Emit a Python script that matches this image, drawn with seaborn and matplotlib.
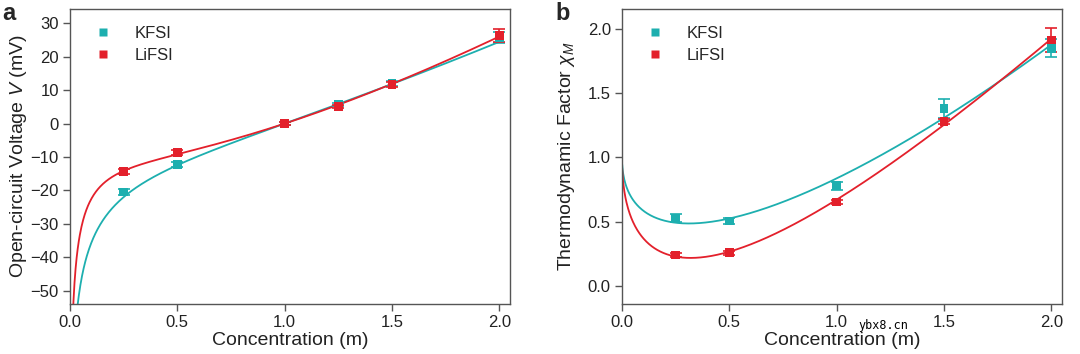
import numpy as np
import pandas as pd
import seaborn as sns
import matplotlib
matplotlib.use("Agg")
import matplotlib.pyplot as plt

# datos
conc_v = [0.25, 0.5, 1.0, 1.25, 1.5, 2.0]
v_kfsi = [-20.5, -12.3, 0.0, 5.7, 12.1, 25.8]
v_kfsi_err = [0.8, 0.8, 0.5, 0.5, 0.7, 1.7]
v_lifsi = [-14.4, -8.6, 0.0, 5.2, 11.7, 26.3]
v_lifsi_err = [0.7, 0.8, 0.5, 0.5, 0.6, 1.9]

conc_x = [0.25, 0.5, 1.0, 1.5, 2.0]
x_kfsi = [0.525, 0.504, 0.779, 1.382, 1.85]
x_kfsi_err = [0.03, 0.02, 0.03, 0.075, 0.07]
x_lifsi = [0.239, 0.257, 0.652, 1.278, 1.914]
x_lifsi_err = [0.015, 0.015, 0.015, 0.02, 0.09]

salts = ["KFSI", "LiFSI"]
colors = {"KFSI": "#1DAFAF", "LiFSI": "#E3202B"}

sns.set_style("ticks")
plt.rcParams["font.family"] = ["Liberation Sans", "DejaVu Sans"]
plt.rcParams["mathtext.fontset"] = "custom"
plt.rcParams["mathtext.it"] = "Liberation Sans:italic"
plt.rcParams["mathtext.rm"] = "Liberation Sans"


# ajuste: chi = 1 + a*sqrt(c) + b*c + d*c^2 ; V = K * integral(chi dln c)
def chi_basis(c):
    c = np.asarray(c, float)
    return np.column_stack([np.sqrt(c), c, c ** 2])


def v_basis(c, p):
    c = np.asarray(c, float)
    a, b, d = p
    return np.log(c) + 2 * a * (np.sqrt(c) - 1) + b * (c - 1) + d * (c ** 2 - 1) / 2


def fit(cx, chi, cv, v):
    p = np.linalg.lstsq(chi_basis(cx), np.asarray(chi) - 1, rcond=None)[0]
    g = v_basis(cv, p)
    k = np.dot(g, v) / np.dot(g, g)
    return p, k


grid = np.linspace(0.001, 2.0, 800)
rows_v, rows_x = [], []
for s, cv, vv, cx, xx in [("KFSI", conc_v, v_kfsi, conc_x, x_kfsi),
                          ("LiFSI", conc_v, v_lifsi, conc_x, x_lifsi)]:
    p, k = fit(cx, xx, cv, vv)
    rows_v.append(pd.DataFrame({"c": grid, "y": k * v_basis(grid, p), "salt": s}))
    rows_x.append(pd.DataFrame({"c": grid, "y": 1 + chi_basis(grid) @ p, "salt": s}))
curve_v = pd.concat(rows_v)
curve_x = pd.concat(rows_x)

pts_v = pd.concat([pd.DataFrame({"c": conc_v, "y": v_kfsi, "err": v_kfsi_err, "salt": "KFSI"}),
                   pd.DataFrame({"c": conc_v, "y": v_lifsi, "err": v_lifsi_err, "salt": "LiFSI"})])
pts_x = pd.concat([pd.DataFrame({"c": conc_x, "y": x_kfsi, "err": x_kfsi_err, "salt": "KFSI"}),
                   pd.DataFrame({"c": conc_x, "y": x_lifsi, "err": x_lifsi_err, "salt": "LiFSI"})])

fig = plt.figure(figsize=(10.8, 3.54), dpi=100)
ax1 = fig.add_axes([0.0648, 0.1412, 0.4074, 0.8334])
ax2 = fig.add_axes([0.5759, 0.1412, 0.4074, 0.8334])


def draw(ax, curve, pts):
    sns.lineplot(data=curve, x="c", y="y", hue="salt", palette=colors, hue_order=salts,
                 lw=1.3, legend=False, ax=ax, zorder=2)
    for s in salts:
        d = pts[pts.salt == s]
        ax.errorbar(d.c, d.y, yerr=d.err, fmt="none", ecolor=colors[s], elinewidth=1.2,
                    capsize=4, capthick=1.2, zorder=3)
    sns.scatterplot(data=pts, x="c", y="y", hue="salt", palette=colors, hue_order=salts,
                    marker="s", s=40, edgecolor="none", ax=ax, zorder=4)
    ax.legend(loc="upper left", frameon=False, fontsize=12, handletextpad=0.9,
              markerscale=0.8, borderaxespad=0.7, labelspacing=0.45, borderpad=0.3)
    for sp in ax.spines.values():
        sp.set_color("#555555")
        sp.set_linewidth(1.0)
    ax.tick_params(labelsize=12, length=5, width=1, color="#555555", labelcolor="#222222", pad=3)
    ax.set_xlim(0, 2.05)
    ax.set_xticks([0, 0.5, 1.0, 1.5, 2.0])
    ax.set_xlabel("Concentration (m)", fontsize=14, labelpad=1, color="#222222")


draw(ax1, curve_v, pts_v)
ax1.set_ylim(-54, 34.3)
ax1.set_yticks(range(-50, 31, 10))
ax1.set_ylabel("Open-circuit Voltage $V$ (mV)", fontsize=14, labelpad=1, color="#222222")

draw(ax2, curve_x, pts_x)
ax2.set_ylim(-0.143, 2.156)
ax2.set_yticks([0, 0.5, 1.0, 1.5, 2.0])
ax2.set_ylabel("Thermodynamic Factor $\\chi_M$", fontsize=14, labelpad=8, color="#222222")

fig.text(0.002, 0.995, "a", fontsize=17, fontweight="bold", va="top", ha="left")
fig.text(0.514, 0.995, "b", fontsize=17, fontweight="bold", va="top", ha="left")
fig.text(0.795, 0.07, "ybx8.cn", fontsize=8.5, family="DejaVu Sans Mono", color="black")

fig.savefig("out.png", dpi=100)
